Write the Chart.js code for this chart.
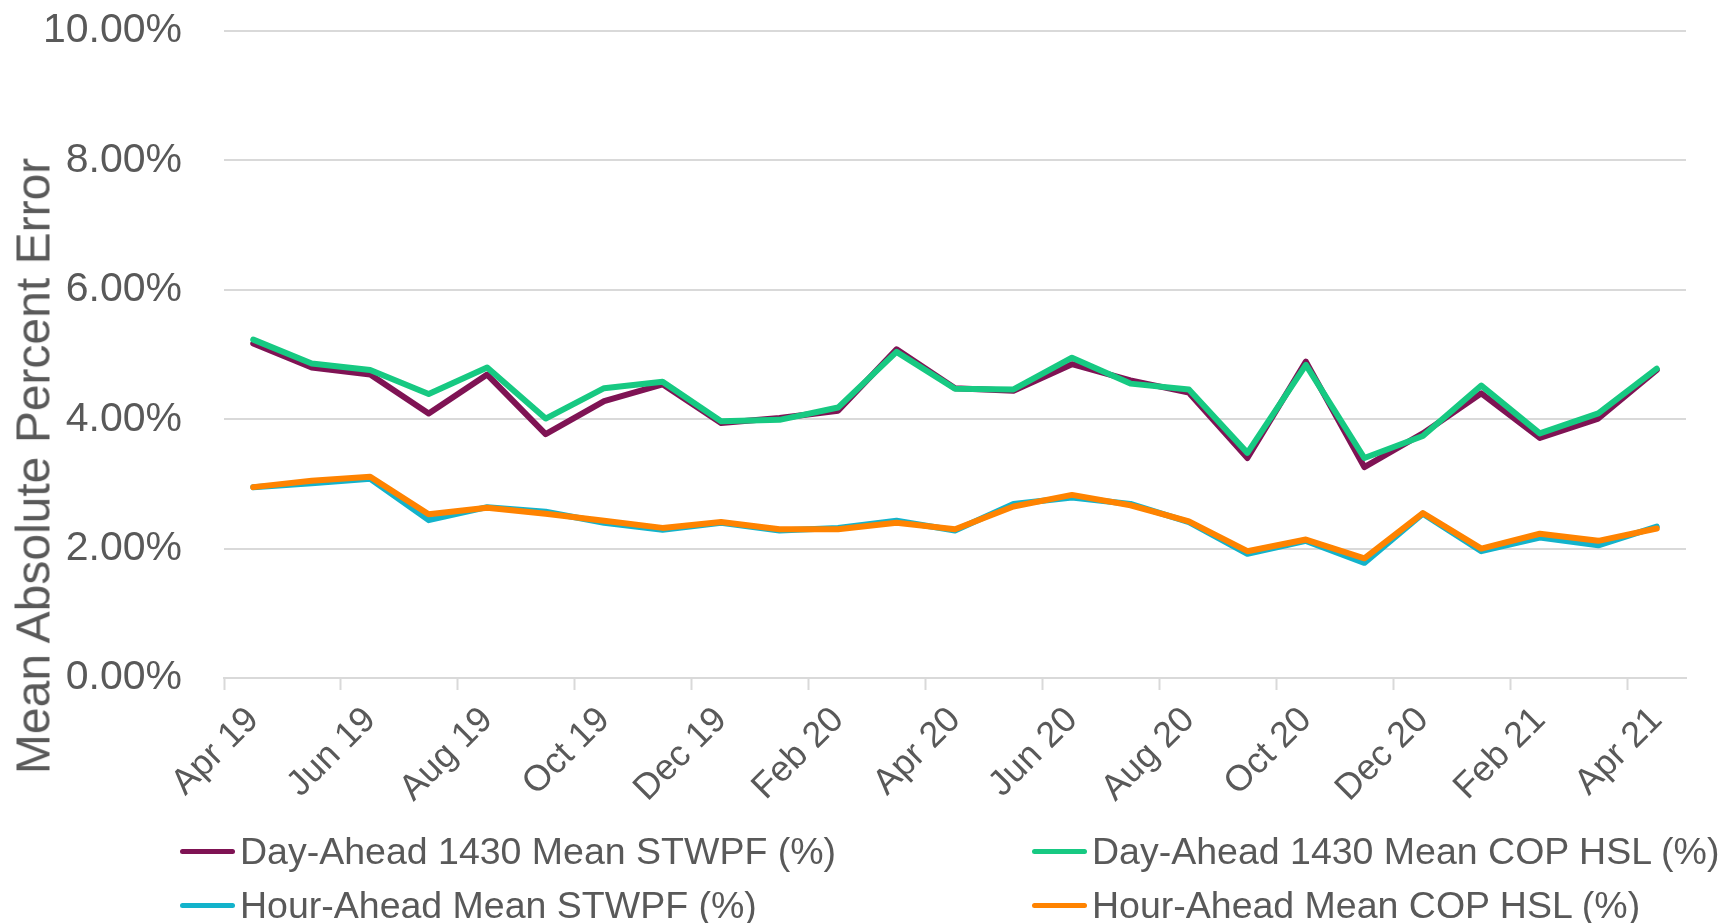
<!DOCTYPE html>
<html lang="en">
<head>
  <meta charset="UTF-8">
  <title>Mean Absolute Percent Error</title>
  <style>
    body { margin: 0; background: #fff; }
    #wrap { position: relative; width: 1721px; height: 923px; font-family: "Liberation Sans", Arial, sans-serif; color: #595959; }
    #chart { position: absolute; left: 0; top: 0; }
    #ytitle { position: absolute; left: 33px; top: 466px; transform: translate(-50%, -50%) rotate(-90deg); white-space: nowrap; font-size: 48px; }
    #legend { position: absolute; left: 180px; top: 824px; display: grid; grid-template-columns: 852px auto; }
    .item { display: flex; align-items: center; height: 54px; font-size: 37.5px; white-space: nowrap; }
    .swatch { display: inline-block; width: 55px; height: 5px; border-radius: 3px; margin-right: 5px; }
  </style>
</head>
<body>
  <div id="wrap">
    <canvas id="chart" width="1721" height="923"></canvas>
    <div id="ytitle">Mean Absolute Percent Error</div>
    <div id="legend"></div>
  </div>

  <script src="https://cdn.jsdelivr.net/npm/chart.js"></script>
  <script>
    const months = ['Apr 19', 'May 19', 'Jun 19', 'Jul 19', 'Aug 19', 'Sep 19', 'Oct 19', 'Nov 19', 'Dec 19',
      'Jan 20', 'Feb 20', 'Mar 20', 'Apr 20', 'May 20', 'Jun 20', 'Jul 20', 'Aug 20', 'Sep 20', 'Oct 20',
      'Nov 20', 'Dec 20', 'Jan 21', 'Feb 21', 'Mar 21', 'Apr 21'];

    // values in percent
    const dayAheadStwpf = [5.17, 4.80, 4.69, 4.09, 4.69, 3.77, 4.28, 4.54, 3.94, 4.02, 4.13, 5.08, 4.48,
      4.44, 4.85, 4.60, 4.41, 3.40, 4.89, 3.26, 3.78, 4.40, 3.71, 4.01, 4.76];
    const dayAheadCopHsl = [5.23, 4.86, 4.76, 4.39, 4.80, 4.01, 4.48, 4.58, 3.97, 3.99, 4.18, 5.04, 4.47,
      4.46, 4.95, 4.55, 4.46, 3.48, 4.84, 3.40, 3.74, 4.52, 3.78, 4.09, 4.78];
    const hourAheadStwpf = [2.95, 3.01, 3.08, 2.44, 2.64, 2.57, 2.40, 2.29, 2.40, 2.28, 2.32, 2.43, 2.28,
      2.69, 2.79, 2.69, 2.41, 1.92, 2.12, 1.78, 2.54, 1.96, 2.17, 2.05, 2.34];
    const hourAheadCopHsl = [2.95, 3.05, 3.11, 2.53, 2.63, 2.54, 2.43, 2.32, 2.41, 2.30, 2.30, 2.40, 2.30,
      2.65, 2.83, 2.67, 2.42, 1.96, 2.14, 1.85, 2.55, 2.00, 2.23, 2.12, 2.31];

    const seriesNames = ['Day-Ahead 1430 Mean STWPF (%)', 'Day-Ahead 1430 Mean COP HSL (%)',
      'Hour-Ahead Mean STWPF (%)', 'Hour-Ahead Mean COP HSL (%)'];
    const seriesColors = ['#7f1354', '#17c982', '#13b3cb', '#ff8300'];
    const yTicks = [0, 2, 4, 6, 8, 10];

    const FONT = '"Liberation Sans", Arial, sans-serif';
    const GRID = '#d9d9d9';

    function line(i, values, order) {
      return {
        label: seriesNames[i],
        data: values,
        borderColor: seriesColors[i],
        backgroundColor: seriesColors[i],
        borderWidth: 6,
        borderCapStyle: 'round',
        borderJoinStyle: 'round',
        pointRadius: 0,
        tension: 0,
        order: order
      };
    }

    const ctx = document.getElementById('chart').getContext('2d');
    const chart = new Chart(ctx, {
      type: 'line',
      data: {
        labels: months,
        datasets: [
          line(0, dayAheadStwpf, 2),
          line(1, dayAheadCopHsl, 0),
          line(2, hourAheadStwpf, 3),
          line(3, hourAheadCopHsl, 1)
        ]
      },
      options: {
        responsive: false,
        animation: false,
        devicePixelRatio: 1,
        layout: { padding: { top: 31, right: 35, left: 0, bottom: 0 } },
        plugins: { legend: { display: false }, tooltip: { enabled: false } },
        scales: {
          x: {
            offset: true,
            afterFit: (scale) => { scale.height = 245; },
            border: { display: true, color: GRID, width: 2 },
            grid: {
              offset: true,
              drawOnChartArea: false,
              drawTicks: true,
              tickLength: 12,
              tickWidth: 2,
              tickColor: (c) => (c.index !== undefined && c.index % 2 === 0) ? GRID : 'rgba(0,0,0,0)'
            },
            ticks: {
              autoSkip: false,
              minRotation: 45,
              maxRotation: 45,
              padding: 9,
              color: '#595959',
              font: { family: FONT, size: 36 },
              callback: (v, i) => i % 2 === 0 ? months[i] : ''
            }
          },
          y: {
            min: 0,
            max: 10,
            afterFit: (scale) => { scale.width = 224; },
            afterBuildTicks: (scale) => { scale.ticks = yTicks.map(v => ({ value: v })); },
            border: { display: false },
            // invisible tick marks keep the labels off the plot without adding top padding
            grid: { color: GRID, lineWidth: 2, drawTicks: true, tickLength: 39, tickColor: 'rgba(0,0,0,0)' },
            ticks: {
              padding: 3,
              color: '#595959',
              font: { family: FONT, size: 41 },
              callback: (v) => v.toFixed(2) + '%'
            }
          }
        }
      }
    });

    // legend as two columns, built from the dataset list
    const legend = document.getElementById('legend');
    chart.data.datasets.forEach(ds => {
      const item = document.createElement('div');
      item.className = 'item';
      const sw = document.createElement('span');
      sw.className = 'swatch';
      sw.style.background = ds.borderColor;
      item.appendChild(sw);
      item.appendChild(document.createTextNode(ds.label));
      legend.appendChild(item);
    });
  </script>
</body>
</html>
